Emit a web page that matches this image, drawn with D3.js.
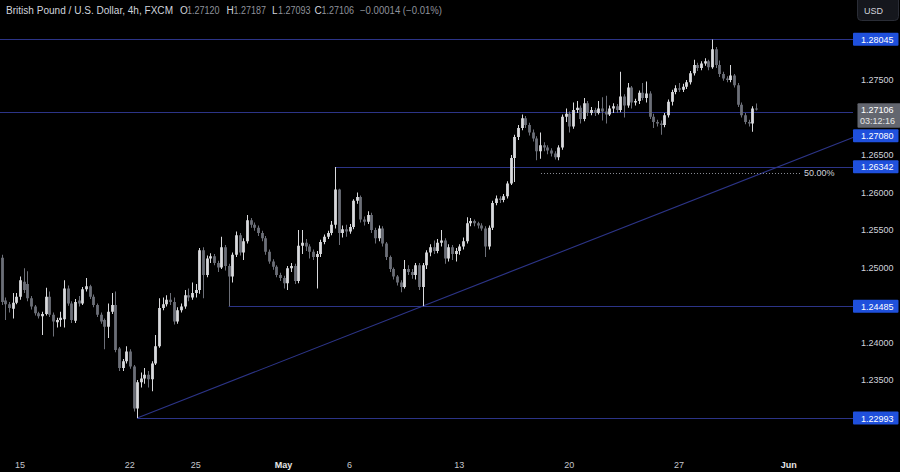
<!DOCTYPE html>
<html><head><meta charset="utf-8">
<script src="https://cdn.jsdelivr.net/npm/d3@7"></script>
<style>html,body{margin:0;padding:0;background:#000;overflow:hidden}svg{display:block}</style>
</head><body><svg id="c" width="900" height="472"></svg>
<script>
const opens=[1.2513,1.2456,1.2451,1.2445,1.2453,1.2461,1.2481,1.2478,1.2459,1.2448,
1.2439,1.2435,1.2438,1.2461,1.2437,1.2427,1.2430,1.2431,1.2472,1.2452,
1.2429,1.2456,1.2452,1.2471,1.2475,1.2461,1.2450,1.2437,1.2430,1.2421,
1.2441,1.2450,1.2392,1.2366,1.2375,1.2388,1.2368,1.2312,1.2347,1.2352,
1.2357,1.2351,1.2372,1.2395,1.2446,1.2451,1.2457,1.2454,1.2428,1.2443,
1.2448,1.2463,1.2460,1.2466,1.2470,1.2523,1.2490,1.2512,1.2515,1.2506,
1.2500,1.2527,1.2502,1.2488,1.2517,1.2543,1.2520,1.2535,1.2563,1.2557,
1.2553,1.2546,1.2539,1.2521,1.2508,1.2501,1.2490,1.2486,1.2479,1.2499,
1.2502,1.2482,1.2529,1.2533,1.2528,1.2521,1.2514,1.2518,1.2534,1.2541,
1.2546,1.2557,1.2604,1.2546,1.2551,1.2548,1.2554,1.2589,1.2594,1.2564,
1.2561,1.2570,1.2550,1.2539,1.2552,1.2532,1.2514,1.2498,1.2488,1.2480,
1.2474,1.2498,1.2494,1.2490,1.2503,1.2474,1.2503,1.2520,1.2527,1.2522,
1.2533,1.2536,1.2512,1.2527,1.2518,1.2522,1.2528,1.2535,1.2559,1.2562,
1.2559,1.2556,1.2552,1.2528,1.2553,1.2586,1.2592,1.2590,1.2595,1.2612,
1.2646,1.2674,1.2686,1.2699,1.2690,1.2680,1.2672,1.2655,1.2663,1.2660,
1.2656,1.2652,1.2647,1.2660,1.2701,1.2705,1.2688,1.2710,1.2713,1.2698,
1.2719,1.2706,1.2710,1.2706,1.2712,1.2708,1.2704,1.2712,1.2715,1.2710,
1.2728,1.2716,1.2740,1.2720,1.2722,1.2733,1.2726,1.2732,1.2701,1.2694,
1.2692,1.2690,1.2703,1.2721,1.2734,1.2739,1.2737,1.2741,1.2747,1.2759,
1.2770,1.2766,1.2772,1.2775,1.2767,1.2791,1.2770,1.2758,1.2752,1.2750,
1.2756,1.2743,1.2717,1.2703,1.2694,1.2692,1.27120];
const highs=[1.2517,1.2460,1.2454,1.2466,1.2466,1.2488,1.2499,1.2495,1.2462,1.2450,
1.2441,1.2441,1.2473,1.2468,1.2440,1.2433,1.2441,1.2483,1.2476,1.2455,
1.2458,1.2462,1.2474,1.2486,1.2477,1.2464,1.2452,1.2440,1.2432,1.2452,
1.2466,1.2468,1.2394,1.2378,1.2395,1.2391,1.2370,1.2350,1.2360,1.2366,
1.2362,1.2375,1.2410,1.2459,1.2460,1.2463,1.2466,1.2460,1.2447,1.2452,
1.2470,1.2472,1.2480,1.2478,1.2526,1.2527,1.2516,1.2519,1.2518,1.2509,
1.2541,1.2530,1.2505,1.2520,1.2548,1.2546,1.2539,1.2570,1.2566,1.2560,
1.2556,1.2549,1.2542,1.2524,1.2511,1.2503,1.2493,1.2489,1.2502,1.2506,
1.2505,1.2550,1.2550,1.2538,1.2531,1.2524,1.2522,1.2537,1.2544,1.2549,
1.2562,1.2634,1.2605,1.2556,1.2557,1.2558,1.2591,1.2600,1.2596,1.2568,
1.2575,1.2573,1.2553,1.2556,1.2555,1.2534,1.2516,1.2500,1.2490,1.2483,
1.2510,1.2503,1.2498,1.2506,1.2506,1.2506,1.2523,1.2531,1.2536,1.2538,
1.2550,1.2539,1.2531,1.2530,1.2526,1.2531,1.2540,1.2567,1.2566,1.2564,
1.2561,1.2559,1.2555,1.2556,1.2589,1.2596,1.2595,1.2598,1.2615,1.2650,
1.2677,1.2690,1.2704,1.2702,1.2693,1.2684,1.2675,1.2680,1.2667,1.2663,
1.2659,1.2655,1.2663,1.2704,1.2712,1.2708,1.2720,1.2722,1.2716,1.2726,
1.2722,1.2714,1.2713,1.2722,1.2727,1.2729,1.2716,1.2719,1.2718,1.2761,
1.2731,1.2746,1.2742,1.2725,1.2736,1.2746,1.2748,1.2735,1.2705,1.2697,
1.2696,1.2706,1.2724,1.2737,1.2743,1.2746,1.2745,1.2750,1.2762,1.2777,
1.2773,1.2775,1.2779,1.2777,1.2804,1.2794,1.2776,1.2761,1.2755,1.2770,
1.2758,1.2746,1.2720,1.2706,1.2697,1.2715,1.27187];
const lows=[1.2450,1.2430,1.2440,1.2432,1.2451,1.2457,1.2466,1.2455,1.2444,1.2436,
1.2432,1.2410,1.2436,1.2434,1.2408,1.2420,1.2421,1.2420,1.2449,1.2426,
1.2426,1.2448,1.2450,1.2468,1.2458,1.2447,1.2434,1.2425,1.2391,1.2406,
1.2438,1.2387,1.2362,1.2362,1.2372,1.2365,1.2308,1.22993,1.2340,1.2345,
1.2340,1.2335,1.2370,1.2393,1.2443,1.2448,1.2450,1.2424,1.2425,1.2440,
1.2445,1.2455,1.2457,1.2460,1.2465,1.2459,1.2487,1.2506,1.2503,1.2494,
1.2498,1.2496,1.24485,1.2480,1.2514,1.2516,1.2510,1.2532,1.2553,1.2549,
1.2542,1.2535,1.2517,1.2505,1.2497,1.2487,1.2482,1.2472,1.2470,1.2494,
1.2478,1.2479,1.2518,1.2522,1.2512,1.2510,1.2472,1.2514,1.2531,1.2538,
1.2543,1.2552,1.2530,1.2540,1.2541,1.2545,1.2551,1.2585,1.2560,1.2556,
1.2558,1.2546,1.2532,1.2535,1.2528,1.2510,1.2494,1.2484,1.2476,1.2467,
1.2472,1.2490,1.2485,1.2484,1.2470,1.24485,1.2498,1.2515,1.2518,1.2519,
1.2528,1.2505,1.2508,1.2510,1.2508,1.2517,1.2524,1.2532,1.2555,1.2555,
1.2552,1.2549,1.2514,1.2524,1.2550,1.2583,1.2586,1.2587,1.2592,1.2610,
1.2614,1.2670,1.2683,1.2686,1.2676,1.2668,1.2643,1.2645,1.2655,1.2651,
1.2648,1.2644,1.2643,1.2657,1.2694,1.2680,1.2685,1.2706,1.2692,1.2695,
1.2702,1.2703,1.2702,1.2704,1.2696,1.2692,1.2702,1.2706,1.2706,1.2707,
1.2700,1.2713,1.2712,1.2716,1.2718,1.2723,1.2720,1.2698,1.2686,1.2688,
1.2677,1.2687,1.2700,1.2716,1.2731,1.2734,1.2734,1.2738,1.2744,1.2756,
1.2762,1.2763,1.2769,1.2763,1.2765,1.2766,1.2754,1.2749,1.2747,1.2747,
1.2740,1.2714,1.2700,1.2691,1.2688,1.2681,1.27093];
const closes=[1.2454,1.2451,1.2446,1.2453,1.2461,1.2483,1.2470,1.2459,1.2448,1.2439,
1.2435,1.2438,1.2461,1.2437,1.2428,1.2430,1.2433,1.2472,1.2452,1.2430,
1.2454,1.2452,1.2471,1.2475,1.2461,1.2450,1.2437,1.2428,1.2421,1.2441,
1.2450,1.2390,1.2366,1.2375,1.2388,1.2368,1.2312,1.2347,1.2352,1.2357,
1.2351,1.2372,1.2395,1.2446,1.2451,1.2457,1.2454,1.2428,1.2443,1.2448,
1.2463,1.2460,1.2466,1.2470,1.2523,1.2490,1.2512,1.2515,1.2506,1.2500,
1.2527,1.2502,1.2488,1.2517,1.2543,1.2520,1.2535,1.2563,1.2557,1.2553,
1.2546,1.2539,1.2521,1.2508,1.2501,1.2490,1.2486,1.2479,1.2499,1.2502,
1.2482,1.2529,1.2533,1.2528,1.2521,1.2514,1.2518,1.2534,1.2541,1.2546,
1.2557,1.2604,1.2546,1.2551,1.2548,1.2554,1.2589,1.2594,1.2564,1.2561,
1.2570,1.2550,1.2539,1.2552,1.2532,1.2514,1.2498,1.2488,1.2480,1.2474,
1.2498,1.2494,1.2490,1.2503,1.2474,1.2503,1.2520,1.2527,1.2522,1.2533,
1.2536,1.2512,1.2527,1.2518,1.2522,1.2528,1.2535,1.2559,1.2562,1.2559,
1.2556,1.2552,1.2528,1.2553,1.2586,1.2592,1.2590,1.2595,1.2612,1.2646,
1.2674,1.2686,1.2699,1.2690,1.2680,1.2672,1.2655,1.2663,1.2660,1.2656,
1.2652,1.2647,1.2660,1.2701,1.2705,1.2688,1.2710,1.2713,1.2698,1.2719,
1.2706,1.2710,1.2706,1.2712,1.2708,1.2704,1.2712,1.2715,1.2710,1.2728,
1.2716,1.2740,1.2720,1.2722,1.2733,1.2726,1.2732,1.2701,1.2694,1.2692,
1.2690,1.2703,1.2721,1.2734,1.2739,1.2737,1.2741,1.2747,1.2759,1.2770,
1.2766,1.2772,1.2775,1.2767,1.2791,1.2770,1.2758,1.2752,1.2750,1.2756,
1.2743,1.2717,1.2703,1.2694,1.2692,1.2712,1.27106];

const dateTickIdx=[5,35,53,77,95,125,155,185,215];
const dateTickLabels=["15","22","25","May","6","13","20","27","Jun"];
const monthLabels=["May","Jun"];
const priceTicks=[1.275,1.265,1.260,1.255,1.250,1.240,1.235];
const levelPrices=[1.28045,1.27080,1.26342,1.24485,1.22993];
const levelLabels=["1.28045","1.27080","1.26342","1.24485","1.22993"];
const levelStartIdx=[-1,-1,91,62,37];
const trendIdx=[37,115];
const trendPrices=[1.22993,1.24485];
const fibPrice=1.26265, fibStartIdx=147.3, fibLabel="50.00%";
const title="British Pound / U.S. Dollar, 4h, FXCM";
const ohlcKeys=["O","H","L","C"];
const ohlcVals=["1.27120","1.27187","1.27093","1.27106"];
const changeText="\u22120.00014 (\u22120.01%)";
const lastPrice=1.27106, lastPriceText="1.27106", countdown="03:12:16", currency="USD";

const svg=d3.select("#c");
const FONT="'Liberation Sans', Arial, sans-serif";
svg.append("rect").attr("width",900).attr("height",472).attr("fill","#000");

const x=d3.scaleLinear().domain([0,206]).range([1.7,755.9]);
const y=d3.scaleLinear().domain([1.23,1.28]).range([417.5,42.5]);
const axisX=853;
const lineCol="#2c3487";

// horizontal levels
const lv=svg.append("g");
levelPrices.forEach((p,k)=>{
  const x0=levelStartIdx[k]<0?0:x(levelStartIdx[k]);
  const yy=Math.round(y(p))+0.5;
  lv.append("line").attr("x1",x0).attr("x2",axisX).attr("y1",yy).attr("y2",yy)
    .attr("stroke",lineCol).attr("stroke-width",1);
});
// trendline
{
  const x1=x(trendIdx[0]),y1=y(trendPrices[0]),x2=x(trendIdx[1]),y2=y(trendPrices[1]);
  const s=(y2-y1)/(x2-x1);
  lv.append("line").attr("x1",x1).attr("y1",y1).attr("x2",axisX).attr("y2",y1+s*(axisX-x1))
    .attr("stroke",lineCol).attr("stroke-width",1.1);
}
// fib 50% dotted
lv.append("line").attr("x1",x(fibStartIdx)).attr("x2",800).attr("y1",Math.round(y(fibPrice))+0.5).attr("y2",Math.round(y(fibPrice))+0.5)
  .attr("stroke","#8a8d96").attr("stroke-width",1).attr("stroke-dasharray","1,2");
svg.append("text").attr("x",804).attr("y",y(fibPrice)+0.5).attr("dominant-baseline","central")
  .attr("font-family",FONT).attr("font-size",9).attr("fill","#d1d4dc").text(fibLabel);

// candles
const idx=d3.range(closes.length);
const up="#d9dadd", dn="#6c6f78";
const cg=svg.append("g");
cg.selectAll("line.w").data(idx).join("line").attr("class","w")
  .attr("x1",i=>Math.round(x(i))+0.5).attr("x2",i=>Math.round(x(i))+0.5)
  .attr("y1",i=>y(highs[i])).attr("y2",i=>y(lows[i]))
  .attr("stroke",i=>closes[i]>=opens[i]?up:dn).attr("stroke-width",1);
cg.selectAll("rect.b").data(idx).join("rect").attr("class","b")
  .attr("x",i=>Math.round(x(i))+0.5-1.4).attr("width",2.8)
  .attr("y",i=>y(Math.max(opens[i],closes[i])))
  .attr("height",i=>Math.max(1,Math.abs(y(opens[i])-y(closes[i]))))
  .attr("fill",i=>closes[i]>=opens[i]?up:dn);

// price axis tick labels
svg.append("g").selectAll("text").data(priceTicks).join("text")
  .attr("x",861).attr("y",p=>y(p)).attr("dominant-baseline","central")
  .attr("font-family",FONT).attr("font-size",9).attr("fill","#d1d4dc")
  .text(p=>p.toFixed(5));

// current price box
const lpY=y(lastPrice);
const gTop=lpY-6.3, gH=24.4;
svg.append("rect").attr("x",857.5).attr("y",gTop).attr("width",43).attr("height",gH).attr("fill","#63666f").attr("rx",1);
svg.append("text").attr("x",861).attr("y",lpY+0.5).attr("dominant-baseline","central").attr("font-family",FONT).attr("font-size",9).attr("fill","#fff").text(lastPriceText);
svg.append("text").attr("x",860).attr("y",lpY+11.5).attr("dominant-baseline","central").attr("font-family",FONT).attr("font-size",9).attr("fill","#e6e6e6").text(countdown);

// level labels
const lbH=13;
levelPrices.forEach((p,k)=>{
  let cy=y(p);
  if(cy+lbH/2>gTop && cy-lbH/2<gTop+gH) cy=gTop+gH+1.5+lbH/2;
  svg.append("rect").attr("x",853).attr("y",cy-lbH/2).attr("width",45.5).attr("height",lbH).attr("fill","#1f50dc").attr("rx",1);
  svg.append("text").attr("x",861).attr("y",cy+0.5).attr("dominant-baseline","central")
    .attr("font-family",FONT).attr("font-size",9).attr("fill","#fff").text(levelLabels[k]);
});

// currency button
svg.append("rect").attr("x",857.5).attr("y",-4).attr("width",41).attr("height",24.5).attr("rx",4)
  .attr("fill","#15171d").attr("stroke","#2a2d36");
svg.append("text").attr("x",864).attr("y",10.5).attr("dominant-baseline","central").attr("font-family",FONT).attr("font-size",9).attr("fill","#d1d4dc").text(currency);

// date axis
svg.append("g").selectAll("text").data(dateTickIdx).join("text")
  .attr("x",i=>x(i)).attr("y",465).attr("text-anchor","middle").attr("dominant-baseline","central")
  .attr("font-family",FONT).attr("font-size",9)
  .attr("font-weight",(i,k)=>monthLabels.includes(dateTickLabels[k])?"bold":"normal")
  .attr("fill",(i,k)=>monthLabels.includes(dateTickLabels[k])?"#e6e6e6":"#c4c6cc")
  .text((i,k)=>dateTickLabels[k]);

// header
const hdr=svg.append("g").attr("font-family",FONT).attr("font-size",10);
hdr.append("text").attr("x",6).attr("y",10).attr("dominant-baseline","central").attr("fill","#d1d4dc").attr("textLength",167).attr("lengthAdjust","spacingAndGlyphs").text(title);
const keyX=[180,226.5,272,314.5];
ohlcKeys.forEach((k,j)=>{
  hdr.append("text").attr("x",keyX[j]).attr("y",10).attr("dominant-baseline","central").attr("fill","#d1d4dc").text(k);
  hdr.append("text").attr("x",keyX[j]+(k==="L"?6:7)).attr("y",10).attr("dominant-baseline","central").attr("fill","#8f929b").attr("textLength",32.5).attr("lengthAdjust","spacingAndGlyphs").text(ohlcVals[j]);
});
hdr.append("text").attr("x",360).attr("y",10).attr("dominant-baseline","central").attr("fill","#8f929b").attr("textLength",82).attr("lengthAdjust","spacingAndGlyphs").text(changeText);
</script></body></html>
